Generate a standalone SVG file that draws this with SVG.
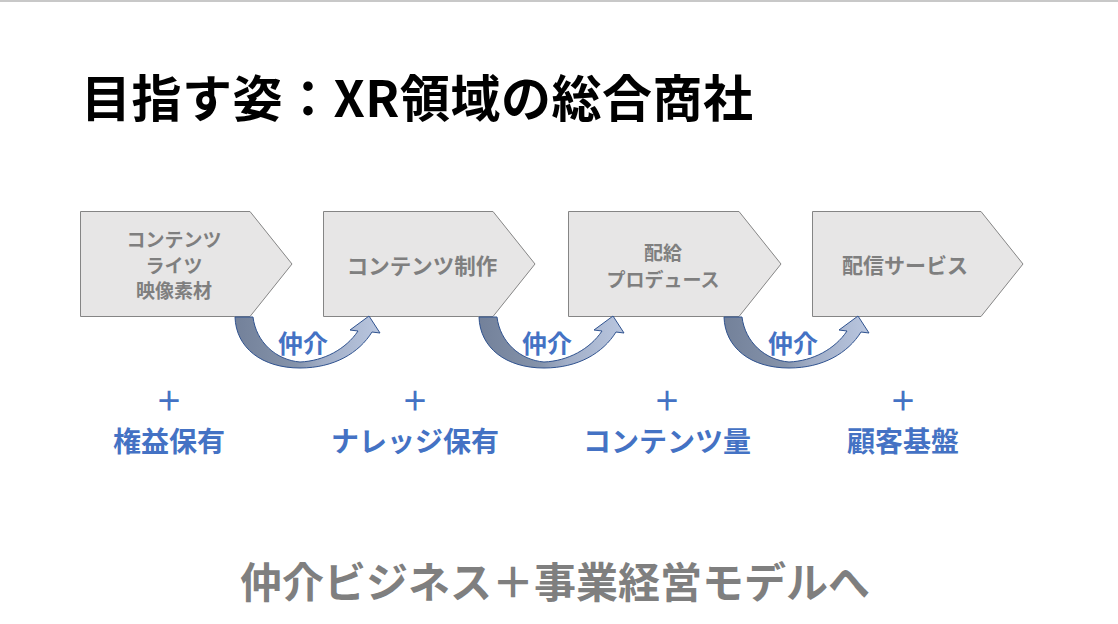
<svg xmlns="http://www.w3.org/2000/svg" width="1118" height="624" viewBox="0 0 1118 624">
<style>
.t{font-family:"Noto Sans CJK JP","Noto Sans",sans-serif;font-weight:700}
.title{font-size:50px;fill:#000}
.box{fill:#e7e6e6;stroke:#858585;stroke-width:1}
.bt{fill:#7f7f7f;text-anchor:middle}
.blue{fill:#4472c4;text-anchor:middle}
.plus{font-size:27px}
.lbl{font-size:28px}
.foot{fill:#7f7f7f;font-size:42px;text-anchor:middle}
.arc{fill:url(#ag);stroke:#2f528f;stroke-width:1}
</style>
<defs>
<linearGradient id="ag" x1="0" y1="0" x2="1" y2="0">
<stop offset="0" stop-color="#73819a"/>
<stop offset="0.42" stop-color="#8593aa"/>
<stop offset="0.6" stop-color="#a1aec7"/>
<stop offset="1" stop-color="#b9c6df"/>
</linearGradient>
<path id="arc" class="arc" d="M235,317 C236,348 262,368 300,368 C334,368 359,353 372,332 L380,333 L369,316 L350,330 L358,331 C346,349 324,361 300,362 C276,360 256,342 253,317 Z"/>
</defs>
<rect x="0" y="0" width="1118" height="2" fill="#c8c8c8"/>
<text id="title" class="t title" x="81" y="117" textLength="672" lengthAdjust="spacing">目指す姿：XR領域の総合商社</text>
<g id="node1">
<path class="box" d="M80.5,211.5 H250 L292,264 L250,316.5 H80.5 Z"/>
<text class="t bt" font-size="19"><tspan x="174" y="247">コンテンツ</tspan><tspan x="174" y="272.5">ライツ</tspan><tspan x="174" y="298">映像素材</tspan></text>
</g>
<g id="node2">
<path class="box" d="M323.5,211.5 H493 L535,264 L493,316.5 H323.5 Z"/>
<text class="t bt" font-size="21.5" x="422" y="274">コンテンツ制作</text>
</g>
<g id="node3">
<path class="box" d="M568.5,211.5 H739 L781,264 L739,316.5 H568.5 Z"/>
<text class="t bt" font-size="19"><tspan x="663" y="260">配給</tspan><tspan x="663" y="286.5">プロデュース</tspan></text>
</g>
<g id="node4">
<path class="box" d="M812.5,211.5 H981 L1023,264 L981,316.5 H812.5 Z"/>
<text class="t bt" font-size="21" x="905" y="273">配信サービス</text>
</g>
<g id="connectors">
<use href="#arc"/>
<use href="#arc" transform="translate(244,0)"/>
<use href="#arc" transform="translate(489,0)"/>
</g>
<g id="labels">
<text class="t blue" font-size="25" x="303" y="353">仲介</text>
<text class="t blue" font-size="25" x="547" y="353">仲介</text>
<text class="t blue" font-size="25" x="793" y="353">仲介</text>
<text class="t blue plus" x="169" y="411">＋</text>
<text class="t blue lbl" x="169" y="451.5">権益保有</text>
<text class="t blue plus" x="415" y="411">＋</text>
<text class="t blue lbl" x="415" y="451.5">ナレッジ保有</text>
<text class="t blue plus" x="667" y="411">＋</text>
<text class="t blue lbl" x="667" y="451.5">コンテンツ量</text>
<text class="t blue plus" x="903" y="411">＋</text>
<text class="t blue lbl" x="903" y="451.5">顧客基盤</text>
</g>
<text id="footer" class="t foot" x="555" y="598">仲介ビジネス＋事業経営モデルへ</text>
</svg>
